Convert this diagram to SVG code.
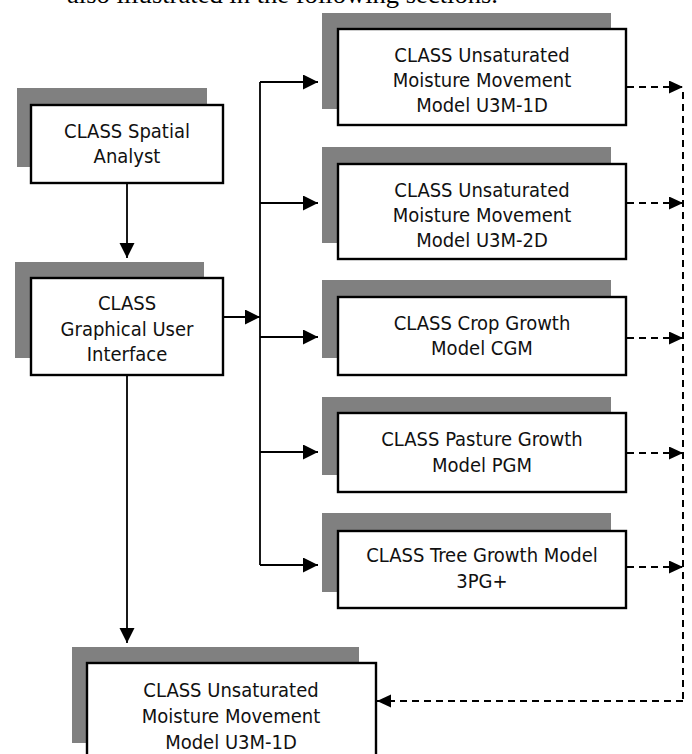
<svg xmlns="http://www.w3.org/2000/svg" width="692" height="754" viewBox="0 0 692 754">
<style>
  .shadow { fill: #808080; }
  .box { fill: #ffffff; stroke: #000000; stroke-width: 2.4; }
  .lbl { font-family: "DejaVu Sans Condensed", "DejaVu Sans", sans-serif; font-stretch: condensed; font-size: 20px; fill: #111111; text-anchor: middle; }
  .top { font-family: "Liberation Serif", serif; font-size: 26px; fill: #000000; }
  .solid { fill: none; stroke: #000000; stroke-width: 1.8; }
  .dash { fill: none; stroke: #000000; stroke-width: 2; stroke-dasharray: 7 5; }
</style>
<defs>
  <marker id="ah" markerUnits="userSpaceOnUse" markerWidth="16" markerHeight="16" refX="15" refY="7.5" orient="auto">
    <path d="M0,0 L15,7.5 L0,15 z" fill="#000000"/>
  </marker>
  <marker id="ahd" markerUnits="userSpaceOnUse" markerWidth="15" markerHeight="14" refX="14" refY="6.5" orient="auto">
    <path d="M0,0 L14,6.5 L0,13 z" fill="#000000"/>
  </marker>
</defs>
<rect width="692" height="754" fill="#ffffff"/>
<text class="top" x="67" y="3" textLength="431" lengthAdjust="spacingAndGlyphs">also illustrated in the following sections.</text>

<g id="connectors">
  <line class="solid" x1="127" y1="183" x2="127" y2="258" marker-end="url(#ah)"/>
  <line class="solid" x1="223" y1="317" x2="260" y2="317" marker-end="url(#ah)"/>
  <line class="solid" x1="260" y1="82" x2="260" y2="565"/>
  <line class="solid" x1="260" y1="82" x2="318" y2="82" marker-end="url(#ah)"/>
  <line class="solid" x1="260" y1="203" x2="318" y2="203" marker-end="url(#ah)"/>
  <line class="solid" x1="260" y1="337" x2="318" y2="337" marker-end="url(#ah)"/>
  <line class="solid" x1="260" y1="452" x2="318" y2="452" marker-end="url(#ah)"/>
  <line class="solid" x1="260" y1="565" x2="318" y2="565" marker-end="url(#ah)"/>
  <line class="solid" x1="127" y1="375" x2="127" y2="643" marker-end="url(#ah)"/>
  <line class="dash" x1="627" y1="87" x2="683" y2="87" marker-end="url(#ahd)"/>
  <line class="dash" x1="627" y1="203" x2="683" y2="203" marker-end="url(#ahd)"/>
  <line class="dash" x1="627" y1="338" x2="683" y2="338" marker-end="url(#ahd)"/>
  <line class="dash" x1="627" y1="453" x2="683" y2="453" marker-end="url(#ahd)"/>
  <line class="dash" x1="627" y1="567" x2="683" y2="567" marker-end="url(#ahd)"/>
  <line class="dash" x1="683" y1="92" x2="683" y2="701"/>
  <line class="dash" x1="683" y1="701" x2="377" y2="701" marker-end="url(#ahd)"/>
</g>

<g id="spatial-analyst">
  <rect class="shadow" x="17" y="88" width="190" height="79"/>
  <rect class="box" x="31" y="105" width="192" height="78"/>
  <text class="lbl" x="127" y="138">CLASS Spatial</text>
  <text class="lbl" x="127" y="163">Analyst</text>
</g>

<g id="gui">
  <rect class="shadow" x="15" y="262" width="189" height="96"/>
  <rect class="box" x="31" y="278" width="192" height="97"/>
  <text class="lbl" x="127" y="310">CLASS</text>
  <text class="lbl" x="127" y="336">Graphical User</text>
  <text class="lbl" x="127" y="361">Interface</text>
</g>

<g id="u3m-1d">
  <rect class="shadow" x="322" y="13" width="289" height="96"/>
  <rect class="box" x="338" y="29" width="288" height="96"/>
  <text class="lbl" x="482" y="62">CLASS Unsaturated</text>
  <text class="lbl" x="482" y="87">Moisture Movement</text>
  <text class="lbl" x="482" y="112">Model U3M-1D</text>
</g>

<g id="u3m-2d">
  <rect class="shadow" x="322" y="147" width="289" height="96"/>
  <rect class="box" x="338" y="164" width="288" height="95"/>
  <text class="lbl" x="482" y="197">CLASS Unsaturated</text>
  <text class="lbl" x="482" y="222">Moisture Movement</text>
  <text class="lbl" x="482" y="247">Model U3M-2D</text>
</g>

<g id="cgm">
  <rect class="shadow" x="322" y="280" width="289" height="78"/>
  <rect class="box" x="338" y="297" width="288" height="78"/>
  <text class="lbl" x="482" y="330">CLASS Crop Growth</text>
  <text class="lbl" x="482" y="355">Model CGM</text>
</g>

<g id="pgm">
  <rect class="shadow" x="322" y="397" width="289" height="78"/>
  <rect class="box" x="338" y="413" width="288" height="79"/>
  <text class="lbl" x="482" y="446">CLASS Pasture Growth</text>
  <text class="lbl" x="482" y="472">Model PGM</text>
</g>

<g id="tree-growth">
  <rect class="shadow" x="322" y="513" width="289" height="79"/>
  <rect class="box" x="338" y="531" width="288" height="77"/>
  <text class="lbl" x="482" y="562">CLASS Tree Growth Model</text>
  <text class="lbl" x="482" y="588">3PG+</text>
</g>

<g id="u3m-1d-bottom">
  <rect class="shadow" x="72" y="647" width="287" height="96"/>
  <rect class="box" x="87" y="663" width="289" height="100"/>
  <text class="lbl" x="231" y="697">CLASS Unsaturated</text>
  <text class="lbl" x="231" y="723">Moisture Movement</text>
  <text class="lbl" x="231" y="749">Model U3M-1D</text>
</g>
</svg>
